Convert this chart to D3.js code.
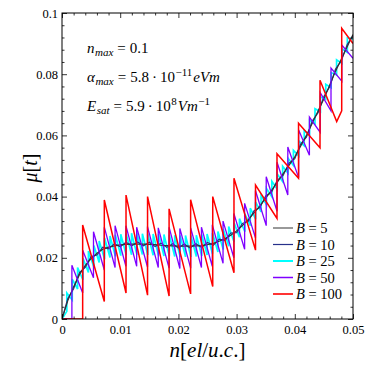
<!DOCTYPE html>
<html>
<head>
<meta charset="utf-8">
<script src="https://cdn.jsdelivr.net/npm/d3@7"></script>
<style>
  body { margin: 0; background: #fff; }
  svg text { font-family: "Liberation Serif", "Times New Roman", "DejaVu Serif", serif !important; fill: #000; }
</style>
</head>
<body>
<svg width="382" height="365"></svg>
<script>
const svg = d3.select("svg"),
  plotLeft = 62, plotRight = 353, plotTop = 13, plotBottom = 319;

// tick values and labels
const xMajor = [0, 0.01, 0.02, 0.03, 0.04, 0.05];
const xLabels = ["0", "0.01", "0.02", "0.03", "0.04", "0.05"];
const xMinor = [0.002, 0.004, 0.006, 0.008, 0.012, 0.014, 0.016, 0.018, 0.022, 0.024, 0.026, 0.028,
  0.032, 0.034, 0.036, 0.038, 0.042, 0.044, 0.046, 0.048];
const yMajor = [0, 0.02, 0.04, 0.06, 0.08, 0.1];
const yLabels = ["0", "0.02", "0.04", "0.06", "0.08", "0.1"];
const yMinor = [0.004, 0.008, 0.012, 0.016, 0.024, 0.028, 0.032, 0.036, 0.044, 0.048, 0.052, 0.056,
  0.064, 0.068, 0.072, 0.076, 0.084, 0.088, 0.092, 0.096];

// B = 5 and B = 10 read on a regular n grid
const nGrid = [0, 0.001, 0.002, 0.003, 0.004, 0.005, 0.006, 0.007, 0.008, 0.009, 0.010,
  0.011, 0.012, 0.013, 0.014, 0.015, 0.016, 0.017, 0.018, 0.019, 0.020,
  0.021, 0.022, 0.023, 0.024, 0.025, 0.026, 0.027, 0.028, 0.029, 0.030,
  0.031, 0.032, 0.033, 0.034, 0.035, 0.036, 0.037, 0.038, 0.039, 0.040,
  0.041, 0.042, 0.043, 0.044, 0.045, 0.046, 0.047, 0.048, 0.049, 0.050];
const muB5 = [0, 0.0060, 0.0105, 0.0145, 0.0175, 0.0197, 0.0215, 0.0228, 0.0235, 0.0239, 0.0242,
  0.0244, 0.0245, 0.0245, 0.0245, 0.0244, 0.0243, 0.0241, 0.0240, 0.0239, 0.0238,
  0.0238, 0.0238, 0.0239, 0.0240, 0.0243, 0.0247, 0.0254, 0.0262, 0.0274, 0.0288,
  0.0305, 0.0325, 0.0347, 0.0370, 0.0395, 0.0420, 0.0447, 0.0475, 0.0502, 0.0530,
  0.0565, 0.0600, 0.0640, 0.0680, 0.0720, 0.0765, 0.0810, 0.0850, 0.0890, 0.0930];
const muB10 = [0, 0.0067, 0.0099, 0.0152, 0.0169, 0.0204, 0.0209, 0.0235, 0.0229, 0.0246, 0.0236,
  0.0251, 0.0239, 0.0252, 0.0239, 0.0251, 0.0237, 0.0248, 0.0234, 0.0246, 0.0232,
  0.0245, 0.0232, 0.0246, 0.0234, 0.0250, 0.0241, 0.0261, 0.0256, 0.0281, 0.0282,
  0.0312, 0.0319, 0.0354, 0.0364, 0.0402, 0.0414, 0.0454, 0.0469, 0.0509, 0.0524,
  0.0572, 0.0594, 0.0647, 0.0674, 0.0727, 0.0759, 0.0817, 0.0844, 0.0897, 0.0925];

// B = 25 : jump positions, value just before each jump, value just after
const cyanJumps = [0.00083, 0.00176, 0.00268, 0.00361, 0.00454, 0.00547, 0.00639, 0.00732, 0.00825, 0.00917,
  0.01010, 0.01103, 0.01195, 0.01288, 0.01381, 0.01474, 0.01566, 0.01659, 0.01752, 0.01844,
  0.01937, 0.02030, 0.02122, 0.02215, 0.02308, 0.02401, 0.02493, 0.02586, 0.02679, 0.02771,
  0.02864, 0.02957, 0.03049, 0.03142, 0.03235, 0.03327, 0.03420, 0.03513, 0.03606, 0.03698,
  0.03791, 0.03884, 0.03976, 0.04069, 0.04162, 0.04254, 0.04347, 0.04440, 0.04532, 0.04625,
  0.04718, 0.04810, 0.04903];
const cyanLow = [0.0025, 0.0062, 0.0098, 0.0128, 0.0152, 0.0170, 0.0185, 0.0195, 0.0201, 0.0205,
  0.0207, 0.0209, 0.0210, 0.0210, 0.0211, 0.0209, 0.0208, 0.0207, 0.0206, 0.0205,
  0.0204, 0.0203, 0.0203, 0.0203, 0.0204, 0.0206, 0.0209, 0.0213, 0.0219, 0.0227,
  0.0238, 0.0252, 0.0267, 0.0285, 0.0305, 0.0326, 0.0350, 0.0374, 0.0399, 0.0424,
  0.0449, 0.0476, 0.0502, 0.0533, 0.0566, 0.0601, 0.0638, 0.0677, 0.0718, 0.0756,
  0.0798, 0.0835, 0.0871];
const cyanHigh = [0.0085, 0.0130, 0.0168, 0.0198, 0.0222, 0.0240, 0.0255, 0.0265, 0.0271, 0.0275,
  0.0277, 0.0279, 0.0280, 0.0280, 0.0279, 0.0279, 0.0278, 0.0277, 0.0276, 0.0275,
  0.0274, 0.0273, 0.0273, 0.0273, 0.0274, 0.0276, 0.0278, 0.0281, 0.0286, 0.0293,
  0.0302, 0.0314, 0.0328, 0.0344, 0.0362, 0.0382, 0.0404, 0.0427, 0.0450, 0.0474,
  0.0499, 0.0525, 0.0551, 0.0582, 0.0615, 0.0650, 0.0687, 0.0726, 0.0767, 0.0805,
  0.0847, 0.0883, 0.0919];
const cyanEnd = 0.0915;

// B = 50
const purpleJumps = [0.00170, 0.00356, 0.00541, 0.00727, 0.00912, 0.01098, 0.01283, 0.01469, 0.01654,
  0.01840, 0.02025, 0.02211, 0.02396, 0.02582, 0.02767, 0.02953, 0.03138, 0.03324, 0.03509,
  0.03695, 0.03880, 0.04066, 0.04251, 0.04437, 0.04622, 0.04808];
const purpleLow = [0, 0.0085, 0.0135, 0.0160, 0.0168, 0.0172, 0.0172, 0.0170, 0.0168,
  0.0166, 0.0165, 0.0166, 0.0168, 0.0172, 0.0182, 0.0200, 0.0228, 0.0265, 0.0305,
  0.0352, 0.0405, 0.0462, 0.0535, 0.0610, 0.0680, 0.0777];
const purpleHigh = [0.0176, 0.0225, 0.0285, 0.0300, 0.0305, 0.0305, 0.0300, 0.0302, 0.0298,
  0.0300, 0.0296, 0.0298, 0.0300, 0.0308, 0.0320, 0.0345, 0.0378, 0.0420, 0.0465,
  0.0512, 0.0562, 0.0618, 0.0660, 0.0740, 0.0820, 0.0895];
const purpleEnd = 0.0852;

// B = 100, vertices read directly
const redPoints = [[0, 0], [0.00355, 0], [0.00355, 0.0307], [0.00727, 0.0057], [0.00727, 0.0389],
  [0.0110, 0.0085], [0.0110, 0.0405], [0.0147, 0.0078], [0.0147, 0.0400], [0.0184, 0.0075],
  [0.0184, 0.0360], [0.0221, 0.0082], [0.0221, 0.0390], [0.0259, 0.0106], [0.0259, 0.0400],
  [0.02955, 0.0151], [0.02955, 0.0460], [0.03325, 0.0225], [0.03325, 0.0438], [0.03694, 0.0329],
  [0.03694, 0.0540], [0.04064, 0.0460], [0.04064, 0.0640], [0.04433, 0.0560], [0.04433, 0.0780],
  [0.0472, 0.0645], [0.04806, 0.0680], [0.04806, 0.0950], [0.0500, 0.0900]];

const x = d3.scaleLinear().domain([0, 0.05]).range([plotLeft, plotRight]);
const y = d3.scaleLinear().domain([0, 0.1]).range([plotBottom, plotTop]);

function sawtooth(jumps, low, high, startVal, endVal) {
  let pts = [[0, startVal]];
  jumps.forEach(function (n, i) {
    pts.push([n, low[i]]);
    pts.push([n, high[i]]);
  });
  pts.push([0.05, endVal]);
  return pts;
}

const series = [
  { name: "B = 25", color: "#00ffff", width: 1.7, pts: sawtooth(cyanJumps, cyanLow, cyanHigh, 0, cyanEnd) },
  { name: "B = 10", color: "#27308a", width: 1.2, pts: nGrid.map(function (n, i) { return [n, muB10[i]]; }) },
  { name: "B = 5", color: "#333", width: 1.2, pts: nGrid.map(function (n, i) { return [n, muB5[i]]; }) },
  { name: "B = 50", color: "#7f00ff", width: 1.3, pts: sawtooth(purpleJumps, purpleLow, purpleHigh, 0, purpleEnd) },
  { name: "B = 100", color: "#ff0000", width: 1.5, pts: redPoints }
];

const line = d3.line()
  .x(function (d) { return x(d[0]); })
  .y(function (d) { return y(d[1]); });

svg.append("defs").append("clipPath").attr("id", "clip")
  .append("rect").attr("x", plotLeft).attr("y", plotTop - 1)
  .attr("width", plotRight - plotLeft).attr("height", plotBottom - plotTop + 1);

svg.append("g").attr("clip-path", "url(#clip)")
  .selectAll("path")
  .data(series)
  .enter()
  .append("path")
  .attr("d", function (d) { return line(d.pts); })
  .attr("fill", "none")
  .attr("stroke", function (d) { return d.color; })
  .attr("stroke-width", function (d) { return d.width; })
  .attr("stroke-linejoin", "miter");

// axes, ticks pointing inwards on all four sides
function addAxis(axis, tx, ty, size, values, labels) {
  axis.tickValues(values).tickSizeInner(-size).tickSizeOuter(0)
    .tickFormat(labels ? function (d, i) { return labels[i]; } : "");
  const g = svg.append("g").attr("transform", "translate(" + tx + "," + ty + ")").call(axis)
    .attr("font-family", null).attr("font-size", null);
  g.select(".domain").remove();
  g.selectAll("line").attr("stroke", "#000").attr("stroke-width", 0.8);
  g.selectAll("text").style("font-size", "12.5px");
  return g;
}

addAxis(d3.axisBottom(x).tickPadding(6), 0, plotBottom, 5, xMajor, xLabels);
addAxis(d3.axisBottom(x), 0, plotBottom, 2.5, xMinor, null);
addAxis(d3.axisTop(x), 0, plotTop, 5, xMajor, null);
addAxis(d3.axisTop(x), 0, plotTop, 2.5, xMinor, null);
addAxis(d3.axisLeft(y).tickPadding(4), plotLeft, 0, 5, yMajor, yLabels);
addAxis(d3.axisLeft(y), plotLeft, 0, 2.5, yMinor, null);
addAxis(d3.axisRight(y), plotRight, 0, 5, yMajor, null);
addAxis(d3.axisRight(y), plotRight, 0, 2.5, yMinor, null);

svg.append("rect")
  .attr("x", plotLeft).attr("y", plotTop)
  .attr("width", plotRight - plotLeft).attr("height", plotBottom - plotTop)
  .attr("fill", "none").attr("stroke", "#000").attr("stroke-width", 1);

// axis titles
const xt = svg.append("text").attr("x", (plotLeft + plotRight) / 2).attr("y", 357)
  .attr("text-anchor", "middle").style("font-size", "21px");
[["n", true], ["[", false], ["el", true], ["/", false], ["u", true], [".", false], ["c", true], [".]", false]]
  .forEach(function (p) {
    xt.append("tspan").text(p[0]).style("font-style", p[1] ? "italic" : "normal");
  });

const yt = svg.append("text").attr("transform", "translate(37,168) rotate(-90)")
  .attr("text-anchor", "middle").style("font-size", "20px");
yt.append("tspan").text("μ").style("font-style", "italic");
yt.append("tspan").text("[");
yt.append("tspan").text("t").style("font-style", "italic");
yt.append("tspan").text("]");

// parameter annotations, math set piece by piece (italic flag, size, baseline shift, gap before)
const notes = [
  { y: 53, parts: [["n", 1, 15, 0, 0], ["max", 1, 11, 3, 0.5], ["=", 0, 15, 0, 4], ["0.1", 0, 15, 0, 4]] },
  { y: 82, parts: [["α", 1, 15, 0, 0], ["max", 1, 11, 3, 0.5], ["=", 0, 15, 0, 4], ["5.8", 0, 15, 0, 4],
    ["·", 0, 15, 0, 3], ["10", 0, 15, 0, 3], ["−11", 0, 11, -6, 0.5], ["eVm", 1, 15, 0, 1]] },
  { y: 111, parts: [["E", 1, 15, 0, 0], ["sat", 1, 11, 3, 0.5], ["=", 0, 15, 0, 4], ["5.9", 0, 15, 0, 4],
    ["·", 0, 15, 0, 3], ["10", 0, 15, 0, 3], ["8", 0, 11, -6, 0.5], ["Vm", 1, 15, 0, 1], ["−1", 0, 11, -6, 0.5]] }
];
notes.forEach(function (d) {
  const t = svg.append("text").attr("x", 87).attr("y", d.y);
  let shift = 0;
  d.parts.forEach(function (p) {
    t.append("tspan").text(p[0])
      .style("font-style", p[1] ? "italic" : "normal")
      .style("font-size", p[2] + "px")
      .attr("dx", p[4])
      .attr("dy", p[3] - shift);
    shift = p[3];
  });
});

// legend
const legendOrder = ["B = 5", "B = 10", "B = 25", "B = 50", "B = 100"];
const legendColors = ["#777", "#27308a", "#00ffff", "#7f00ff", "#ff0000"];
const legendWidths = [1.5, 1.2, 2, 1.5, 1.6];
const lg = svg.append("g").selectAll("g")
  .data(legendOrder)
  .enter()
  .append("g")
  .attr("transform", function (d, i) { return "translate(273," + (228 + i * 16.5) + ")"; });
lg.append("line").attr("x1", 0).attr("x2", 20)
  .attr("stroke", function (d, i) { return legendColors[i]; })
  .attr("stroke-width", function (d, i) { return legendWidths[i]; });
lg.append("text").attr("x", 23).attr("y", 5).style("font-size", "14.5px")
  .each(function (d) {
    const parts = d.split(" = ");
    d3.select(this).append("tspan").text(parts[0]).style("font-style", "italic");
    d3.select(this).append("tspan").text(" = " + parts[1]);
  });
</script>
</body>
</html>
